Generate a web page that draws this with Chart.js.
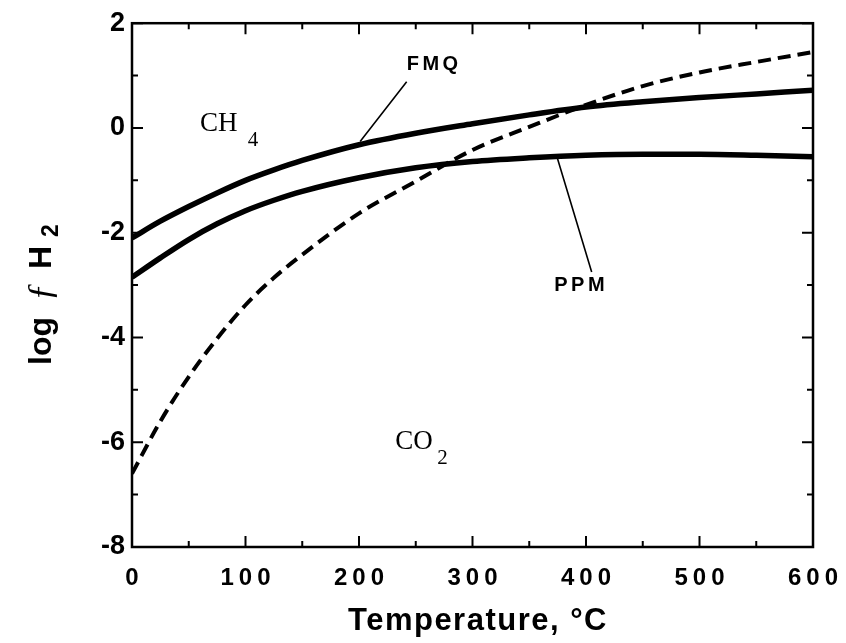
<!DOCTYPE html>
<html>
<head>
<meta charset="utf-8">
<script src="https://cdn.jsdelivr.net/npm/chart.js@4.4.1/dist/chart.umd.min.js"></script>
<style>
  html, body { margin: 0; padding: 0; background: #fff; }
  #wrap { width: 846px; height: 643px; }
</style>
</head>
<body>
<div id="wrap"><canvas id="fugacityChart" width="846" height="643"></canvas></div>
<script>
// Temperature (°C) and log fH2
const temps = [0, 25, 50, 75, 100, 125, 150, 200, 250, 300, 350, 400, 450, 500, 550, 600];
const fmq = [-2.1, -1.78, -1.5, -1.24, -1.0, -0.8, -0.62, -0.32, -0.1, 0.08, 0.25, 0.4, 0.5, 0.58, 0.65, 0.72];
const ppm = [-2.85, -2.48, -2.13, -1.83, -1.58, -1.38, -1.21, -0.95, -0.76, -0.64, -0.57, -0.52, -0.5, -0.5, -0.52, -0.55];
const ch4co2 = [-6.6, -5.6, -4.75, -4.02, -3.38, -2.86, -2.42, -1.63, -1.02, -0.42, 0.02, 0.44, 0.8, 1.06, 1.26, 1.45];

const xTicks = [0, 100, 200, 300, 400, 500, 600];
const yTicks = [2, 0, -2, -4, -6, -8];

function toPoints(ys) {
  return temps.map((t, i) => ({ x: t, y: ys[i] }));
}

// Inward ticks on all four sides, frame, labels, leader lines
const decorations = {
  id: 'decorations',
  afterDraw(chart) {
    const ctx = chart.ctx;
    const xs = chart.scales.x;
    const ys = chart.scales.y;
    const a = chart.chartArea;
    ctx.save();
    ctx.strokeStyle = '#000';
    ctx.fillStyle = '#000';

    // frame
    ctx.lineWidth = 2.5;
    ctx.strokeRect(a.left, a.top, a.right - a.left, a.bottom - a.top);

    // x ticks, major every 100, minor every 50
    ctx.lineWidth = 2;
    for (let t = 0; t <= 600; t += 50) {
      const px = xs.getPixelForValue(t);
      const len = t % 100 === 0 ? 11 : 6;
      ctx.beginPath();
      ctx.moveTo(px, a.bottom); ctx.lineTo(px, a.bottom - len);
      ctx.moveTo(px, a.top); ctx.lineTo(px, a.top + len);
      ctx.stroke();
    }
    // y ticks, major every 2, minor every 1
    for (let v = -8; v <= 2; v += 1) {
      const py = ys.getPixelForValue(v);
      const len = v % 2 === 0 ? 11 : 6;
      ctx.beginPath();
      ctx.moveTo(a.left, py); ctx.lineTo(a.left + len, py);
      ctx.moveTo(a.right, py); ctx.lineTo(a.right - len, py);
      ctx.stroke();
    }

    // x tick labels, spaced out like the original
    ctx.font = 'bold 24px "Liberation Sans", Arial, sans-serif';
    ctx.letterSpacing = '5px';
    ctx.textAlign = 'center';
    ctx.textBaseline = 'middle';
    xTicks.forEach(t => {
      ctx.fillText(String(t), xs.getPixelForValue(t) + 2.5, a.bottom + 31);
    });

    // x axis title
    ctx.font = 'bold 31px "Liberation Sans", Arial, sans-serif';
    ctx.letterSpacing = '1.5px';
    ctx.fillText('Temperature, °C', 478, a.bottom + 74);
    ctx.letterSpacing = '0px';

    // y axis title, rotated
    ctx.save();
    ctx.translate(42, 365);
    ctx.rotate(-Math.PI / 2);
    ctx.textAlign = 'left';
    ctx.textBaseline = 'middle';
    let x0 = 0;
    ctx.font = 'bold 32px "Liberation Sans", Arial, sans-serif';
    ctx.fillText('log', x0, 0); x0 += ctx.measureText('log').width + 16;
    ctx.font = 'italic 36px "Liberation Serif", serif';
    ctx.fillText('ƒ', x0, 1); x0 += ctx.measureText('ƒ').width + 14;
    ctx.font = 'bold 32px "Liberation Sans", Arial, sans-serif';
    ctx.fillText('H', x0, 0); x0 += ctx.measureText('H').width + 9;
    ctx.font = 'bold 23px "Liberation Sans", Arial, sans-serif';
    ctx.fillText('2', x0, 10);
    ctx.restore();

    // region labels
    ctx.textAlign = 'left';
    ctx.textBaseline = 'alphabetic';
    ctx.font = '27px "Liberation Serif", "Times New Roman", serif';
    ctx.fillText('CH', xs.getPixelForValue(60), ys.getPixelForValue(-0.05));
    ctx.font = '21px "Liberation Serif", "Times New Roman", serif';
    ctx.fillText('4', xs.getPixelForValue(102), ys.getPixelForValue(-0.35));
    ctx.font = '27px "Liberation Serif", "Times New Roman", serif';
    ctx.fillText('CO', xs.getPixelForValue(232), ys.getPixelForValue(-6.12));
    ctx.font = '21px "Liberation Serif", "Times New Roman", serif';
    ctx.fillText('2', xs.getPixelForValue(269), ys.getPixelForValue(-6.42));

    // curve labels
    ctx.font = 'bold 20px "Liberation Sans", Arial, sans-serif';
    ctx.letterSpacing = '3.5px';
    ctx.fillText('FMQ', xs.getPixelForValue(242), ys.getPixelForValue(1.1));
    ctx.fillText('PPM', xs.getPixelForValue(372), ys.getPixelForValue(-3.12));
    ctx.letterSpacing = '0px';

    // leader lines
    ctx.lineWidth = 1.6;
    ctx.beginPath();
    ctx.moveTo(xs.getPixelForValue(242), ys.getPixelForValue(0.88));
    ctx.lineTo(xs.getPixelForValue(201), ys.getPixelForValue(-0.26));
    ctx.moveTo(xs.getPixelForValue(374), ys.getPixelForValue(-0.52));
    ctx.lineTo(xs.getPixelForValue(405), ys.getPixelForValue(-2.75));
    ctx.stroke();

    ctx.restore();
  }
};

const ctx = document.getElementById('fugacityChart').getContext('2d');
new Chart(ctx, {
  type: 'line',
  data: {
    datasets: [
      {
        label: 'FMQ',
        data: toPoints(fmq),
        borderColor: '#000',
        borderWidth: 5.5,
        pointRadius: 0,
        cubicInterpolationMode: 'monotone'
      },
      {
        label: 'PPM',
        data: toPoints(ppm),
        borderColor: '#000',
        borderWidth: 5.5,
        pointRadius: 0,
        cubicInterpolationMode: 'monotone'
      },
      {
        label: 'CH4/CO2',
        data: toPoints(ch4co2),
        borderColor: '#000',
        borderWidth: 4,
        borderDash: [13, 7],
        pointRadius: 0,
        cubicInterpolationMode: 'monotone'
      }
    ]
  },
  options: {
    responsive: false,
    animation: false,
    layout: { padding: { top: 20, right: 33, left: 0, bottom: 0 } },
    plugins: {
      legend: { display: false },
      tooltip: { enabled: false }
    },
    scales: {
      x: {
        type: 'linear',
        min: 0,
        max: 600,
        grid: { display: false, drawTicks: false },
        border: { display: false },
        ticks: { display: false, stepSize: 100 },
        afterFit: scale => { scale.height = 96; }
      },
      y: {
        min: -8,
        max: 2,
        grid: { display: false, drawTicks: false },
        border: { display: false },
        ticks: {
          stepSize: 2,
          padding: 7,
          color: '#000',
          font: { family: '"Liberation Sans", Arial, sans-serif', size: 27, weight: 'bold' }
        },
        afterFit: scale => { scale.width = 132; }
      }
    }
  },
  plugins: [decorations]
});
</script>
</body>
</html>
